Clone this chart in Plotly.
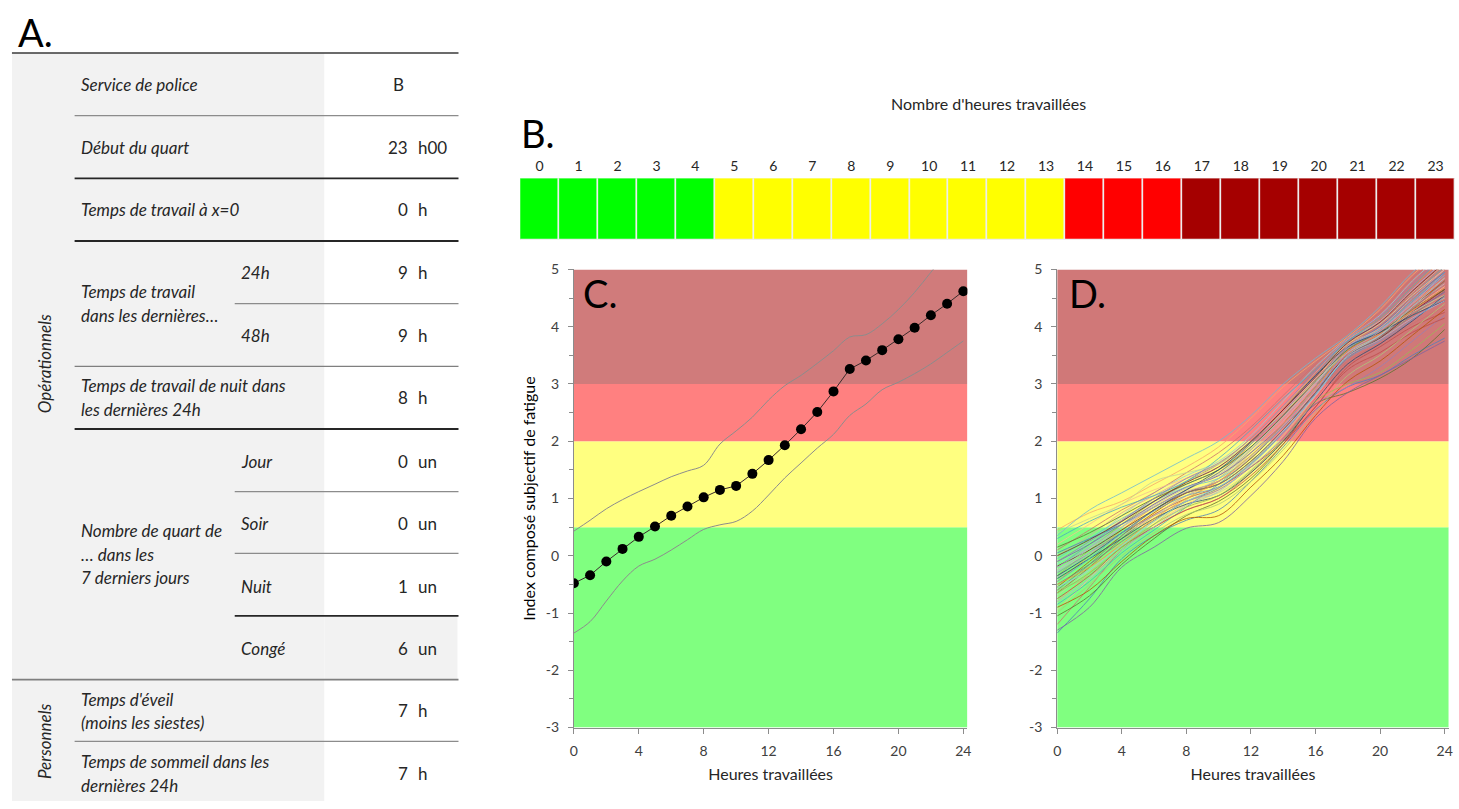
import plotly.graph_objects as go

W, H = 1459, 809
FONT = "Lato"
TXT = "#262626"

# ---------------- data ----------------
# Panel A table
row_labels = [
    ("Service de police", 75, 77), ("Début du quart", 75, 141),
    ("Temps de travail à x=0", 75, 205),
    ("Temps de travail", 75, 289), ("dans les dernières…", 75, 313),
    ("24h", 236, 269), ("48h", 236, 333),
    ("Temps de travail de nuit dans", 75, 385), ("les dernières 24h", 75, 409),
    ("Nombre de quart de", 75, 533), ("… dans les", 75, 557), ("7 derniers jours", 75, 581),
    ("Jour", 236, 462), ("Soir", 236, 526), ("Nuit", 236, 590), ("Congé", 236, 653),
    ("Temps d'éveil", 75, 705), ("(moins les siestes)", 75, 729),
    ("Temps de sommeil dans les", 75, 769), ("dernières 24h", 75, 793),
]
row_numbers = ["23", "0", "9", "9", "8", "0", "0", "1", "6", "7", "7"]
row_units = ["h00", "h", "h", "h", "h", "un", "un", "un", "un", "h", "h"]
row_value_y = [141, 205, 269, 333, 397, 462, 526, 590, 653, 717, 781]
service = "B"
groups = [("Opérationnels", 362), ("Personnels", 748)]

# Panel B
bar_hours = list(range(24))
bar_zone = [0]*5 + [1]*9 + [2]*3 + [3]*7
bar_colors = ["#00FF00", "#FFFF00", "#FF0000", "#A50000"]

# Zones of panels C / D
zone_bounds = [-3, 0.5, 2, 3, 5]
zone_colors = ["#80FF80", "#FFFF80", "#FF8080", "#D07B7B"]
y_ticks = [-3, -2, -1, 0, 1, 2, 3, 4, 5]
y_ticktext = ["-3", "-2", "-1", "0", "1", "2", "3", "4", "5"]
x_ticks = [0, 4, 8, 12, 16, 20, 24]

# Panel C
hours = list(range(25))
fatigue_mean = [-0.48, -0.34, -0.10, 0.12, 0.33, 0.51, 0.70, 0.86, 1.02, 1.15, 1.22, 1.43, 1.67,
                1.93, 2.21, 2.51, 2.87, 3.26, 3.41, 3.59, 3.78, 3.98, 4.20, 4.40, 4.62]
fatigue_upper = [0.43, 0.62, 0.82, 0.98, 1.12, 1.25, 1.38, 1.48, 1.58, 1.95, 2.18, 2.42, 2.72,
                 2.97, 3.15, 3.36, 3.58, 3.82, 3.86, 4.05, 4.30, 4.60, 4.95, 5.30, 5.65]
fatigue_lower = [-1.35, -1.15, -0.79, -0.44, -0.18, -0.06, 0.10, 0.28, 0.46, 0.54, 0.60, 0.78, 1.06,
                 1.36, 1.62, 1.88, 2.12, 2.45, 2.65, 2.90, 3.03, 3.18, 3.35, 3.55, 3.75]

# Panel D (individual trajectories, read every 2 h)
sim_hours = [0, 2, 4, 6, 8, 10, 12, 14, 16, 18, 20, 22, 24]
sim_lines = [
    [-1.35, -0.75, -0.05, 0.35, 0.62, 0.80, 1.30, 1.90, 2.55, 2.95, 3.15, 3.50, 3.80],
    [-1.20, -0.55, 0.10, 0.50, 0.80, 1.00, 1.45, 2.05, 2.75, 3.40, 3.70, 4.05, 4.35],
    [-1.05, -0.70, -0.15, 0.30, 0.70, 0.95, 1.35, 1.95, 2.65, 2.85, 3.10, 3.45, 3.95],
    [-0.95, -0.40, 0.15, 0.55, 0.90, 1.15, 1.60, 2.20, 2.90, 3.55, 3.85, 4.30, 4.70],
    [-0.85, -0.45, 0.05, 0.45, 0.85, 1.25, 1.70, 2.25, 2.85, 3.60, 3.95, 4.45, 4.90],
    [-0.80, -0.30, 0.25, 0.70, 1.05, 1.30, 1.80, 2.40, 3.05, 3.70, 3.95, 4.40, 4.85],
    [-0.70, -0.25, 0.20, 0.60, 0.95, 1.10, 1.50, 2.10, 2.80, 3.50, 3.80, 4.20, 4.50],
    [-0.65, -0.20, 0.30, 0.72, 1.00, 1.20, 1.55, 2.00, 2.60, 3.30, 3.65, 4.00, 4.25],
    [-0.60, -0.35, 0.10, 0.55, 0.98, 1.35, 1.85, 2.45, 3.10, 3.75, 4.10, 4.60, 5.10],
    [-0.55, -0.10, 0.35, 0.75, 1.10, 1.30, 1.70, 2.30, 2.95, 3.60, 3.90, 4.35, 4.80],
    [-0.50, -0.15, 0.25, 0.62, 0.95, 1.18, 1.62, 2.15, 2.82, 3.45, 3.80, 4.20, 4.62],
    [-0.45, 0.00, 0.45, 0.85, 1.15, 1.45, 1.95, 2.55, 3.20, 3.80, 4.15, 4.70, 5.20],
    [-0.40, -0.05, 0.30, 0.65, 0.90, 1.05, 1.45, 2.00, 2.70, 3.35, 3.70, 4.10, 4.55],
    [-0.38, 0.05, 0.50, 0.90, 1.20, 1.40, 1.85, 2.40, 3.00, 3.65, 3.95, 4.40, 4.95],
    [-0.35, 0.10, 0.55, 0.95, 1.30, 1.60, 2.05, 2.60, 3.15, 3.70, 4.05, 4.55, 5.05],
    [-0.30, 0.05, 0.40, 0.70, 0.95, 1.15, 1.55, 2.05, 2.65, 2.95, 3.30, 3.75, 4.20],
    [-0.28, 0.15, 0.60, 1.00, 1.30, 1.55, 2.00, 2.55, 3.10, 3.72, 4.10, 4.65, 5.15],
    [-0.25, 0.05, 0.35, 0.70, 1.05, 1.35, 1.80, 2.35, 3.00, 3.60, 3.90, 4.35, 4.75],
    [-0.20, 0.20, 0.60, 0.95, 1.25, 1.50, 1.95, 2.50, 3.15, 3.75, 4.05, 4.55, 5.05],
    [-0.18, 0.10, 0.45, 0.80, 1.10, 1.25, 1.65, 2.20, 2.85, 3.50, 3.80, 4.25, 4.65],
    [-0.15, 0.25, 0.70, 1.10, 1.40, 1.65, 2.10, 2.70, 3.30, 3.80, 4.20, 4.80, 5.30],
    [-0.10, 0.20, 0.55, 0.90, 1.20, 1.40, 1.80, 2.30, 2.90, 3.55, 3.85, 4.25, 4.60],
    [-0.05, 0.30, 0.65, 0.95, 1.20, 1.35, 1.75, 2.30, 2.95, 3.62, 3.95, 4.45, 4.95],
    [0.00, 0.35, 0.75, 1.05, 1.35, 1.60, 2.05, 2.60, 3.20, 3.78, 4.10, 4.60, 5.10],
    [0.05, 0.30, 0.55, 0.85, 1.15, 1.45, 1.90, 2.45, 3.05, 3.65, 4.00, 4.50, 4.95],
    [0.10, 0.45, 0.80, 1.10, 1.45, 1.80, 2.25, 2.80, 3.35, 3.85, 4.25, 4.85, 5.30],
    [0.15, 0.40, 0.70, 1.00, 1.25, 1.50, 1.90, 2.45, 3.05, 3.60, 3.90, 4.30, 4.65],
    [0.20, 0.55, 0.90, 1.15, 1.35, 1.55, 2.00, 2.55, 3.10, 3.70, 4.05, 4.55, 5.00],
    [0.30, 0.60, 0.85, 1.05, 1.30, 1.70, 2.20, 2.75, 3.25, 3.75, 4.15, 4.70, 5.25],
    [0.45, 0.75, 0.95, 1.25, 1.55, 1.90, 2.40, 2.95, 3.40, 3.82, 4.30, 4.90, 5.35],
    [0.40, 0.65, 0.90, 1.30, 1.45, 1.60, 2.00, 2.50, 3.05, 3.55, 3.85, 4.25, 4.55],
    [-0.75, -0.35, 0.15, 0.50, 0.80, 1.00, 1.40, 1.95, 2.60, 3.25, 3.55, 3.90, 4.15],
    [-1.00, -0.50, 0.00, 0.40, 0.72, 0.90, 1.30, 1.85, 2.50, 3.15, 3.50, 3.95, 4.40],
    [-0.90, -0.60, -0.10, 0.35, 0.65, 0.70, 1.20, 1.75, 2.45, 3.05, 3.40, 3.85, 4.30],
    [-0.60, -0.15, 0.35, 0.80, 1.10, 1.25, 1.65, 2.20, 2.85, 3.48, 3.82, 4.30, 4.80],
    [-0.50, -0.20, 0.20, 0.65, 1.00, 1.30, 1.75, 2.30, 2.92, 3.58, 3.88, 4.28, 4.68],
    [-0.35, 0.00, 0.40, 0.80, 1.15, 1.50, 1.98, 2.55, 3.15, 3.65, 3.90, 4.20, 4.45],
    [-0.20, 0.15, 0.50, 0.85, 1.12, 1.30, 1.72, 2.28, 2.90, 3.55, 3.92, 4.42, 4.90],
    [-0.65, -0.30, 0.15, 0.55, 0.85, 1.05, 1.48, 2.02, 2.70, 3.00, 3.20, 3.60, 4.05],
    [-0.10, 0.25, 0.62, 1.00, 1.35, 1.62, 2.05, 2.62, 3.22, 3.80, 4.18, 4.75, 5.25],
    [-0.80, -0.40, 0.10, 0.50, 0.88, 1.12, 1.58, 2.15, 2.82, 3.48, 3.78, 4.15, 4.45],
    [-0.25, 0.12, 0.50, 0.88, 1.18, 1.42, 1.88, 2.42, 3.02, 3.66, 3.98, 4.50, 5.00],
    [-0.45, -0.05, 0.40, 0.78, 1.05, 1.20, 1.60, 2.15, 2.82, 3.45, 3.75, 4.12, 4.52],
    [0.00, 0.28, 0.60, 0.95, 1.28, 1.55, 2.00, 2.55, 3.12, 3.72, 4.08, 4.62, 5.12],
    [-0.55, -0.25, 0.18, 0.60, 0.95, 1.20, 1.62, 2.18, 2.80, 3.50, 3.85, 4.35, 4.85],
    [-1.30, -0.90, -0.20, 0.15, 0.48, 0.58, 1.05, 1.65, 2.40, 2.85, 3.15, 3.45, 3.75],
    [0.35, 0.80, 1.10, 1.40, 1.70, 2.00, 2.45, 3.00, 3.45, 3.85, 4.35, 4.95, 5.40],
]
sim_palette = ["#4F81BD", "#C0504D", "#9BBB59", "#8064A2", "#4BACC6", "#F79646",
               "#729ACA", "#CD7371", "#AFC97A", "#9983B5", "#6FBDD1", "#F9AB6B",
               "#2C4D75", "#772C2A", "#5F7530", "#B65708", "#A5B8D6", "#D9A3A2",
               "#C3D69B", "#B3A2C7", "#93CDDD", "#FAC090", "#7F7F7F", "#BFBFBF"]

# ---------------- helpers (screen pixel -> paper fraction) ----------------
def px(x):
    return min(1.0, max(0.0, x / W))

def py(y):
    return min(1.0, max(0.0, 1 - y / H))

fig = go.Figure()
shapes = []
annotations = []
TS = 17  # table font size

# ---------------- Panel A: table ----------------
shapes.append(dict(type="rect", xref="paper", yref="paper", x0=px(8), x1=px(322), y0=py(809), y1=py(45),
                   fillcolor="#F2F2F2", line_width=0, layer="below"))
shapes.append(dict(type="rect", xref="paper", yref="paper", x0=px(322), x1=px(456), y0=py(685), y1=py(620),
                   fillcolor="#F2F2F2", line_width=0, layer="below"))
rules = [(45, 8, "#3A3A3A", 1.5), (109, 71, "#8C8C8C", 1.2), (173, 71, "#262626", 1.8),
         (237, 71, "#262626", 1.8), (301, 232, "#8C8C8C", 1.2), (365, 71, "#7F7F7F", 1.2),
         (429, 71, "#262626", 1.8), (493, 232, "#8C8C8C", 1.2), (556, 232, "#8C8C8C", 1.2),
         (620, 232, "#262626", 1.8), (685, 8, "#7F7F7F", 1.6), (748, 71, "#8C8C8C", 1.2)]
for yy, x0, col, wd in rules:
    shapes.append(dict(type="line", xref="paper", yref="paper", x0=px(x0), x1=px(457), y0=py(yy), y1=py(yy),
                       line=dict(color=col, width=wd)))

for text, x, y in row_labels:
    annotations.append(dict(text=f"<i>{text}</i>", x=px(x), y=py(y), xref="paper", yref="paper",
                            xanchor="left", yanchor="middle", showarrow=False,
                            font=dict(family=FONT, size=TS, color=TXT)))
annotations.append(dict(text=service, x=px(397), y=py(77), xref="paper", yref="paper",
                        xanchor="center", yanchor="middle", showarrow=False,
                        font=dict(family=FONT, size=TS, color=TXT)))
for num, unit, y in zip(row_numbers, row_units, row_value_y):
    annotations.append(dict(text=num, x=px(408), y=py(y), xref="paper", yref="paper",
                            xanchor="right", yanchor="middle", showarrow=False,
                            font=dict(family=FONT, size=TS, color=TXT)))
    annotations.append(dict(text=unit, x=px(414), y=py(y), xref="paper", yref="paper",
                            xanchor="left", yanchor="middle", showarrow=False,
                            font=dict(family=FONT, size=TS, color=TXT)))
for text, y in groups:
    annotations.append(dict(text=f"<i>{text}</i>", x=px(41), y=py(y), xref="paper", yref="paper",
                            xanchor="center", yanchor="middle", showarrow=False, textangle=-90,
                            font=dict(family=FONT, size=TS, color=TXT)))

# panel letters & titles
for letter, x, y in [("A.", 12, 24), ("B.", 518, 127), ("C.", 580, 290), ("D.", 1069, 290)]:
    annotations.append(dict(text=letter, x=px(x), y=py(y), xref="paper", yref="paper",
                            xanchor="left", yanchor="middle", showarrow=False,
                            font=dict(family=FONT, size=38, color="#000000")))
annotations.append(dict(text="Nombre d'heures travaillées", x=px(990), y=py(97), xref="paper", yref="paper",
                        xanchor="center", yanchor="middle", showarrow=False,
                        font=dict(family=FONT, size=16, color=TXT)))

# ---------------- Panel B: colour bar ----------------
fig.add_trace(go.Bar(x=bar_hours, y=[1]*len(bar_hours), xaxis="x3", yaxis="y3",
                     marker=dict(color=[bar_colors[z] for z in bar_zone],
                                 line=dict(color="#EDEDED", width=1.5)),
                     width=1, showlegend=False, hoverinfo="x"))

# ---------------- Panels C & D ----------------
for ax in ["", "2"]:
    for i in range(len(zone_colors)):
        shapes.append(dict(type="rect", xref="x" + ax, yref="y" + ax, x0=0, x1=24.25,
                           y0=zone_bounds[i], y1=zone_bounds[i + 1], fillcolor=zone_colors[i],
                           line_width=0, layer="below"))

fig.add_trace(go.Scatter(x=hours, y=fatigue_upper, mode="lines", line=dict(color="#8C8C8C", width=1, shape="spline"),
                         showlegend=False, xaxis="x", yaxis="y"))
fig.add_trace(go.Scatter(x=hours, y=fatigue_lower, mode="lines", line=dict(color="#8C8C8C", width=1, shape="spline"),
                         showlegend=False, xaxis="x", yaxis="y"))
fig.add_trace(go.Scatter(x=hours, y=fatigue_mean, mode="lines+markers",
                         line=dict(color="#3A2A2A", width=1),
                         marker=dict(color="#000000", size=10),
                         showlegend=False, xaxis="x", yaxis="y"))

for i, ys in enumerate(sim_lines):
    fig.add_trace(go.Scatter(x=sim_hours, y=ys, mode="lines",
                             line=dict(color=sim_palette[(i * 7) % len(sim_palette)], width=1, shape="spline",
                                       smoothing=1.0),
                             opacity=0.8, showlegend=False, xaxis="x2", yaxis="y2"))

axis_common = dict(showgrid=False, zeroline=False, showline=True, linecolor="#8C8C8C", linewidth=1,
                   ticks="outside", tickcolor="#8C8C8C", ticklen=5,
                   tickfont=dict(family=FONT, size=14, color="#404040"))
xcommon = dict(axis_common, range=[0, 24.25], tickvals=x_ticks, ticklabelstandoff=6,
               title=dict(text="Heures travaillées", font=dict(family=FONT, size=16, color=TXT), standoff=10))
ycommon = dict(axis_common, range=[-3, 5], tickvals=y_ticks, ticktext=y_ticktext,
               minor=dict(dtick=0.5, ticks="outside", ticklen=4, tickcolor="#8C8C8C"),
               ticklabelstandoff=6)

y_dom = [py(734), py(266)]
fig.update_layout(
    width=W, height=H, margin=dict(l=0, r=0, t=0, b=0),
    paper_bgcolor="white", plot_bgcolor="rgba(0,0,0,0)",
    bargap=0,
    xaxis=dict(xcommon, domain=[px(573), px(968.7)], anchor="y"),
    yaxis=dict(ycommon, domain=y_dom, anchor="x",
               title=dict(text="Index composé subjectif de fatigue",
                          font=dict(family=FONT, size=16, color="#000000"), standoff=6)),
    xaxis2=dict(xcommon, domain=[px(1059), px(1452.7)], anchor="y2"),
    yaxis2=dict(ycommon, domain=y_dom, anchor="x2"),
    xaxis3=dict(domain=[px(519), px(1459)], anchor="y3", range=[-0.5, 23.5], side="top",
                tickvals=bar_hours, ticks="", showline=False, showgrid=False, zeroline=False,
                ticklabelstandoff=4,
                tickfont=dict(family=FONT, size=14, color=TXT)),
    yaxis3=dict(domain=[py(236), py(173)], anchor="x3", range=[0, 1], visible=False),
    shapes=shapes, annotations=annotations,
    font=dict(family=FONT),
)

fig.write_html("out.html")
